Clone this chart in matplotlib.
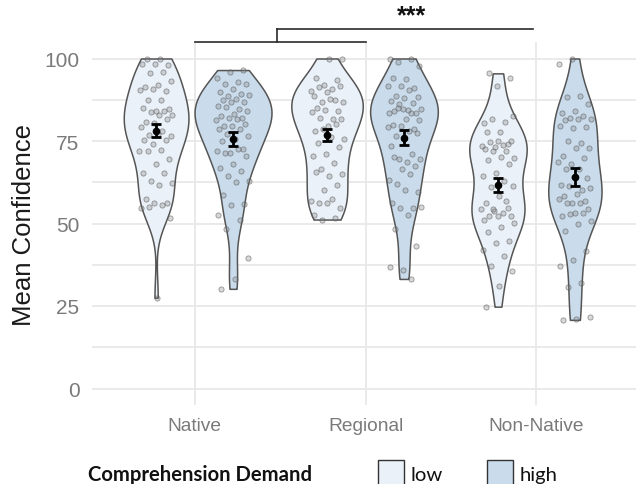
import numpy as np
import matplotlib
matplotlib.use("Agg")
import matplotlib.pyplot as plt
from matplotlib.patches import Rectangle

plt.rcParams["font.family"] = ["Liberation Sans", "DejaVu Sans"]

# categories
GROUPS = ["Native", "Regional", "Non-Native"]
DEMANDS = ["low", "high"]

# per-participant mean confidence
NATIVE_LOW = [100, 100, 98.0, 98.4, 98.3, 96.0, 95.5, 93.1, 92.1, 91.4, 90.1, 90.7,
              90.4, 87.3, 87.5, 84.7, 84.0, 84.9, 84.1, 83.9, 82.8, 83.0, 80.8, 81.8,
              80.4, 79.1, 78.1, 76.8, 76.4, 77.1, 75.3, 75.3, 74.2, 72.0, 72.3, 72.1,
              69.5, 68.0, 65.4, 65.2, 62.9, 62.4, 61.6, 57.5, 56.1, 56.1, 54.6, 55.7,
              55.1, 51.7, 27.5]
NATIVE_HIGH = [96.5, 96.0, 94.0, 92.8, 92.4, 92.4, 90.9, 89.9, 89.2, 88.7, 88.9, 87.7,
               87.5, 86.7, 86.7, 85.5, 84.7, 85.2, 84.2, 83.1, 82.6, 82.1, 82.1, 81.4,
               81.6, 79.6, 80.1, 79.6, 78.6, 78.6, 77.1, 76.6, 75.5, 75.0, 72.5, 71.5,
               72.0, 72.5, 71.3, 70.5, 68.0, 66.9, 65.9, 64.4, 62.9, 62.6, 58.5, 55.8,
               55.5, 52.7, 51.2, 48.2, 39.6, 33.2, 30.2]
REGIONAL_LOW = [100, 100, 94.2, 93.5, 91.9, 90.2, 90.9, 91.5, 91.7, 89.9, 88.7, 87.5,
                86.9, 86.7, 87.7, 85.1, 84.1, 84.3, 83.8, 81.8, 82.1, 81.8, 79.6, 78.0,
                80.1, 78.5, 75.7, 76.3, 74.5, 73.3, 71.0, 70.4, 68.4, 66.6, 64.9, 64.4,
                65.6, 61.8, 60.3, 56.8, 57.5, 56.2, 54.7, 56.2, 52.7, 51.6, 51.2]
REGIONAL_HIGH = [100, 100, 99.0, 97.8, 93.9, 94.2, 91.2, 91.7, 91.7, 90.5, 88.7, 88.2,
                 87.9, 87.2, 86.6, 86.1, 84.6, 84.4, 84.1, 83.6, 84.6, 83.4, 83.4, 84.9,
                 81.4, 81.6, 79.8, 78.7, 79.4, 79.1, 77.9, 76.5, 77.5, 75.5, 73.5, 71.0,
                 69.6, 69.4, 68.6, 70.2, 67.4, 66.4, 63.3, 64.9, 62.1, 59.5, 60.3, 56.3,
                 54.7, 54.7, 55.0, 52.7, 48.3, 43.1, 36.0, 36.8, 33.2]
NONNATIVE_LOW = [95.5, 94.0, 91.8, 80.6, 80.8, 81.8, 82.6, 77.8, 77.8, 74.0, 73.3, 73.5,
                 73.7, 74.7, 75.0, 75.0, 72.5, 72.0, 72.0, 70.0, 70.3, 69.3, 67.9, 65.4,
                 64.4, 62.9, 61.2, 61.4, 58.3, 56.3, 54.8, 53.8, 54.3, 53.1, 52.4, 52.2,
                 52.4, 51.2, 56.8, 54.3, 50.2, 48.9, 47.4, 44.6, 44.1, 42.1, 40.3, 37.0,
                 35.5, 31.0, 24.8]
NONNATIVE_HIGH = [100, 98.3, 88.7, 88.2, 86.2, 84.2, 83.6, 82.6, 82.1, 81.6, 81.8, 81.4,
                  79.1, 78.8, 79.4, 74.5, 75.0, 73.0, 73.0, 70.5, 70.0, 67.9, 68.5, 66.4,
                  66.6, 63.9, 64.2, 61.6, 60.3, 61.4, 60.9, 58.8, 58.3, 56.8, 56.3, 57.3,
                  56.1, 56.3, 54.3, 53.3, 52.2, 53.3, 52.8, 50.7, 49.7, 47.7, 41.8, 38.9,
                  37.0, 32.0, 30.7, 21.8, 21.0, 20.8]

# group means and standard errors (black error bars)
MEAN_LOW = [78.1, 76.8, 61.7]
MEAN_HIGH = [75.5, 76.0, 64.0]
SE_LOW = [2.0, 1.9, 2.2]
SE_HIGH = [2.1, 2.3, 2.7]

Y_TICKS = [0, 25, 50, 75, 100]

DATA = {
    "low": [NATIVE_LOW, REGIONAL_LOW, NONNATIVE_LOW],
    "high": [NATIVE_HIGH, REGIONAL_HIGH, NONNATIVE_HIGH],
}
STATS = {"low": (MEAN_LOW, SE_LOW), "high": (MEAN_HIGH, SE_HIGH)}
FILL = {"low": "#EAF1F8", "high": "#CADCEC"}
OUTLINE = "#555555"
TICK_GREY = "#7a7a7a"
GRID = "#E8E8E8"
DODGE = 0.225


def kde(vals, grid):
    # gaussian kernel, bw.nrd0 like ggplot's geom_violin
    v = np.asarray(vals, dtype=float)
    n = len(v)
    q75, q25 = np.percentile(v, [75, 25])
    bw = 0.9 * min(v.std(ddof=1), (q75 - q25) / 1.34) * n ** -0.2
    z = (grid[:, None] - v[None, :]) / bw
    return np.exp(-0.5 * z ** 2).sum(axis=1) / (n * bw * np.sqrt(2 * np.pi))


fig = plt.figure(figsize=(6.36, 4.85), dpi=100)
ax = fig.add_axes([92 / 636, 1 - 406 / 485, 547 / 636, 363 / 485])

# densities first, so that every violin shares one area scale
dens = {}
for dem in DEMANDS:
    for i, vals in enumerate(DATA[dem]):
        grid = np.linspace(min(vals), max(vals), 512)
        dens[(dem, i)] = (grid, kde(vals, grid))
dmax = max(d.max() for _, d in dens.values())

golden = 0.6180339887
for k, dem in enumerate(DEMANDS):
    shift = -DODGE if dem == "low" else DODGE
    means, ses = STATS[dem]
    for i, vals in enumerate(DATA[dem]):
        x0 = i + 1 + shift
        grid, d = dens[(dem, i)]
        half = d / dmax * DODGE
        ax.fill_betweenx(grid, x0 - half, x0 + half, facecolor=FILL[dem],
                         edgecolor=OUTLINE, linewidth=1.1, zorder=2)
        jit = np.array([((j + 1) * golden + 0.31 * i + 0.17 * k) % 1.0 for j in range(len(vals))])
        jit = (jit - 0.5) * 0.2
        ax.scatter(x0 + jit, vals, s=14, facecolor=(0.5, 0.5, 0.5, 0.3),
                   edgecolor=(0.35, 0.35, 0.35, 0.6), linewidth=0.6, zorder=3)
        ax.errorbar(x0, means[i], yerr=ses[i], fmt="o", color="black", ms=4.5,
                    capsize=3.5, elinewidth=2.0, capthick=2.0, zorder=4)

# significance bracket
br_kw = dict(color="#2b2b2b", linewidth=1.2, clip_on=False, zorder=5)
ax.plot([1, 2], [105.0, 105.0], **br_kw)
ax.plot([1.48, 1.48], [105.0, 109.0], **br_kw)
ax.plot([1.48, 2.98], [109.0, 109.0], **br_kw)
ax.text(2.27, 109.6, "***", ha="center", va="bottom", fontsize=18,
        fontweight="bold", color="#111111")

ax.set_xlim(0.4, 3.6)
ax.set_ylim(-5, 105)
ax.set_xticks(range(1, len(GROUPS) + 1))
ax.set_xticklabels(GROUPS)
ax.set_yticks(Y_TICKS)
ax.set_yticks([12.5, 37.5, 62.5, 87.5], minor=True)
ax.tick_params(axis="both", which="both", length=0, colors=TICK_GREY, labelsize=13.8)
ax.tick_params(axis="x", pad=9)
ax.tick_params(axis="y", pad=9, labelsize=15)
ax.grid(True, which="major", color=GRID, linewidth=1.3)
ax.grid(True, which="minor", axis="y", color=GRID, linewidth=1.3)
ax.set_axisbelow(True)
for s in ax.spines.values():
    s.set_visible(False)
ax.set_ylabel("Mean Confidence", fontsize=18.5, color="#1a1a1a", labelpad=6)

# legend drawn by hand along the bottom
fig.text(88 / 636, 1 - 481 / 485, "Comprehension Demand", fontsize=14.6,
         fontweight="bold", family=["Lato", "DejaVu Sans"], color="#111111")
for dem, xk in zip(DEMANDS, [378, 487]):
    fig.patches.append(Rectangle((xk / 636, 1 - 487 / 485), 26 / 636, 26 / 485,
                                 transform=fig.transFigure, facecolor=FILL[dem],
                                 edgecolor="#333333", linewidth=1.0))
    fig.text((xk + 33) / 636, 1 - 481 / 485, dem, fontsize=14.6,
             family=["Lato", "DejaVu Sans"], color="#111111")

fig.savefig("out.png", dpi=100, facecolor="white")
